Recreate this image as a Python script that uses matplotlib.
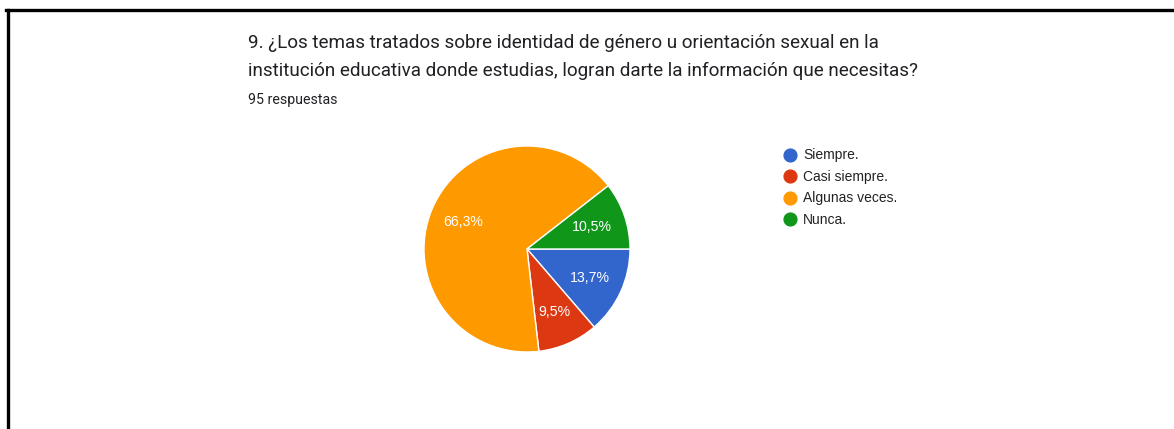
import matplotlib
matplotlib.use("Agg")
import matplotlib.pyplot as plt
from matplotlib.lines import Line2D

categorias = ["Siempre.", "Casi siempre.", "Algunas veces.", "Nunca."]
respuestas = [13, 9, 63, 10]
colores = ["#3366cc", "#dc3912", "#ff9900", "#109618"]
titulo = ("9. ¿Los temas tratados sobre identidad de género u orientación sexual en la\n"
          "institución educativa donde estudias, logran darte la información que necesitas?")
subtitulo = "95 respuestas"

W, H = 1174, 429


def main():
    fig = plt.figure(figsize=(W / 100, H / 100), dpi=100)
    fig.patch.set_facecolor("white")

    # marco negro (arriba e izquierda)
    fig.add_artist(Line2D([6 / W, 1], [1 - 9.5 / H, 1 - 9.5 / H], color="black", lw=2.4))
    fig.add_artist(Line2D([7.5 / W, 7.5 / W], [0, 1 - 9.5 / H], color="black", lw=2.4))

    fig.text(248 / W, 1 - 34 / H, titulo, ha="left", va="top", fontsize=13.6,
             family="Roboto", color="#202124", linespacing=1.68)
    fig.text(248 / W, 1 - 93 / H, subtitulo, ha="left", va="top", fontsize=10.2,
             family="Roboto", color="#202124")

    cx, cy, r = 527, 249, 103
    ax = fig.add_axes([(cx - r) / W, (H - cy - r) / H, 2 * r / W, 2 * r / H])
    wedges, _, autotexts = ax.pie(
        respuestas, colors=colores, startangle=0, counterclock=False,
        autopct=lambda p: f"{p:.1f}".replace(".", ",") + "%",
        pctdistance=0.67, radius=1,
        wedgeprops=dict(edgecolor="white", linewidth=1),
        textprops=dict(color="white", fontsize=10.2, family="Liberation Sans"))
    ax.set_xlim(-1, 1)
    ax.set_ylim(-1, 1)
    ax.set_aspect("equal")
    ax.axis("off")

    handles = [Line2D([], [], marker="o", linestyle="none", markersize=9.2,
                      markerfacecolor=c, markeredgecolor=c) for c in colores]
    fig.legend(handles, categorias, loc="upper left",
               bbox_to_anchor=(776 / W, 1 - 141.5 / H), frameon=False,
               prop=dict(family="Liberation Sans", size=10.0),
               labelcolor="#222222", handlelength=1.0, handletextpad=0.45,
               labelspacing=0.54, borderpad=0)

    fig.savefig("out.png", dpi=100, facecolor="white")


if __name__ == "__main__":
    main()
